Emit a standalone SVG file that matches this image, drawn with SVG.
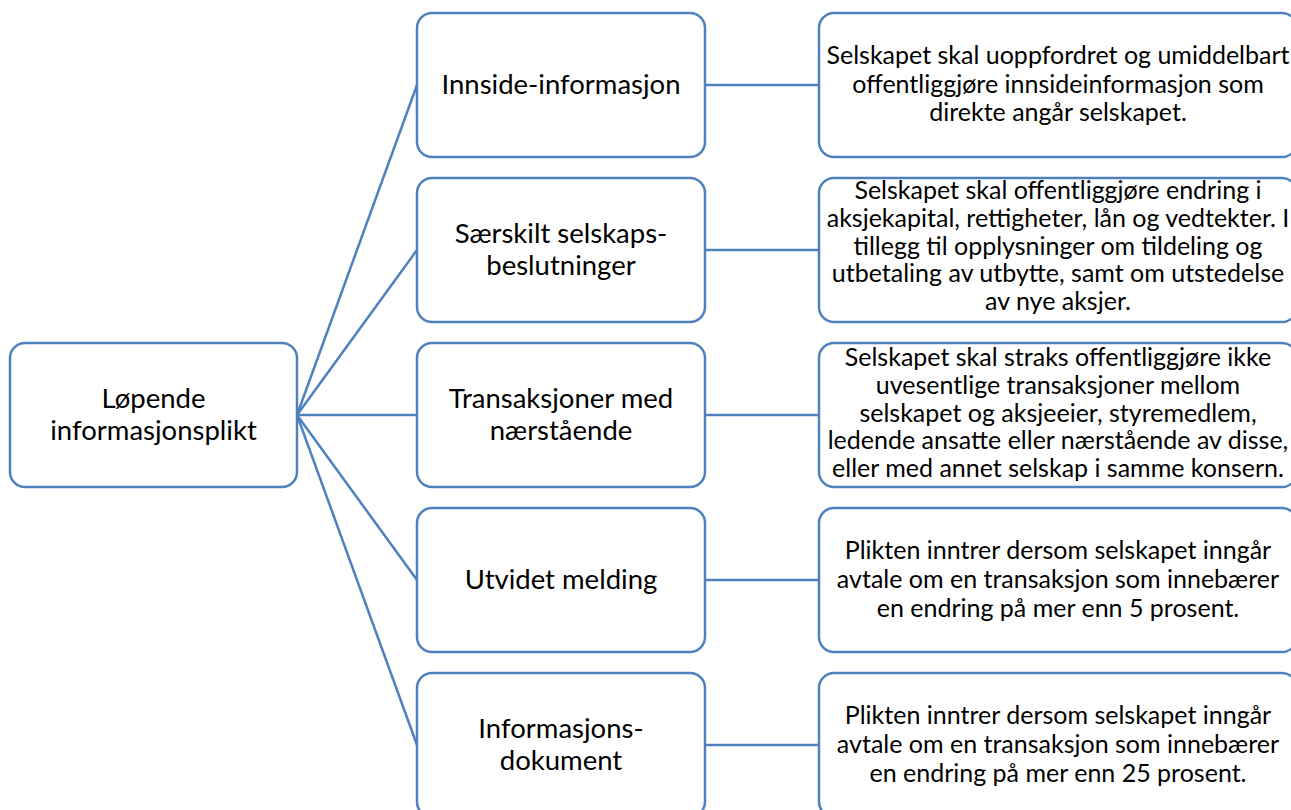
<svg xmlns="http://www.w3.org/2000/svg" width="1291" height="810" viewBox="0 0 1291 810">
<style>
.box{fill:#fff;stroke:#4F81BD;stroke-width:2.5}
.con line{stroke:#4F81BD;stroke-width:2.5}
text{font-family:Lato,"Liberation Sans",sans-serif;fill:#000;text-anchor:middle}
.m{font-size:27.5px}
.r{font-size:25px}
</style>
<rect width="1291" height="810" fill="#fff"/>
<g id="connectors" class="con">
<line x1="297" y1="415" x2="417" y2="85"/>
<line x1="297" y1="415" x2="417" y2="250"/>
<line x1="297" y1="415" x2="417" y2="415"/>
<line x1="297" y1="415" x2="417" y2="580"/>
<line x1="297" y1="415" x2="417" y2="745"/>
<line x1="705" y1="85" x2="819" y2="85"/>
<line x1="705" y1="250" x2="819" y2="250"/>
<line x1="705" y1="415" x2="819" y2="415"/>
<line x1="705" y1="580" x2="819" y2="580"/>
<line x1="705" y1="745" x2="819" y2="745"/>
</g>
<g id="root">
<rect class="box" x="10" y="343" width="287" height="144" rx="15"/>
<text class="m"><tspan x="153.5" y="408">Løpende</tspan><tspan x="153.5" y="440">informasjonsplikt</tspan></text>
</g>
<g id="m1">
<rect class="box" x="417" y="13" width="288" height="144" rx="15"/>
<text class="m" x="561" y="94">Innside-informasjon</text>
</g>
<g id="m2">
<rect class="box" x="417" y="178" width="288" height="144" rx="15"/>
<text class="m"><tspan x="561" y="243">Særskilt selskaps-</tspan><tspan x="561" y="275">beslutninger</tspan></text>
</g>
<g id="m3">
<rect class="box" x="417" y="343" width="288" height="144" rx="15"/>
<text class="m"><tspan x="561" y="408">Transaksjoner med</tspan><tspan x="561" y="440">nærstående</tspan></text>
</g>
<g id="m4">
<rect class="box" x="417" y="508" width="288" height="144" rx="15"/>
<text class="m" x="561" y="589">Utvidet melding</text>
</g>
<g id="m5">
<rect class="box" x="417" y="673" width="288" height="144" rx="15"/>
<text class="m"><tspan x="561" y="738">Informasjons-</tspan><tspan x="561" y="770">dokument</tspan></text>
</g>
<g id="r1">
<rect class="box" x="819" y="13" width="478" height="144" rx="15"/>
<text class="r"><tspan x="1058" y="64">Selskapet skal uoppfordret og umiddelbart</tspan><tspan x="1058" y="93">offentliggjøre innsideinformasjon som</tspan><tspan x="1058" y="121">direkte angår selskapet.</tspan></text>
</g>
<g id="r2">
<rect class="box" x="819" y="178" width="478" height="144" rx="15"/>
<text class="r"><tspan x="1058" y="199">Selskapet skal offentliggjøre endring i</tspan><tspan x="1058" y="226.8">aksjekapital, rettigheter, lån og vedtekter. I</tspan><tspan x="1058" y="254.5">tillegg til opplysninger om tildeling og</tspan><tspan x="1058" y="282.3">utbetaling av utbytte, samt om utstedelse</tspan><tspan x="1058" y="310">av nye aksjer.</tspan></text>
</g>
<g id="r3">
<rect class="box" x="819" y="343" width="478" height="144" rx="15"/>
<text class="r"><tspan x="1058" y="366">Selskapet skal straks offentliggjøre ikke</tspan><tspan x="1058" y="393.8">uvesentlige transaksjoner mellom</tspan><tspan x="1058" y="421.5">selskapet og aksjeeier, styremedlem,</tspan><tspan x="1058" y="449.3">ledende ansatte eller nærstående av disse,</tspan><tspan x="1058" y="477">eller med annet selskap i samme konsern.</tspan></text>
</g>
<g id="r4">
<rect class="box" x="819" y="508" width="478" height="144" rx="15"/>
<text class="r"><tspan x="1058" y="559">Plikten inntrer dersom selskapet inngår</tspan><tspan x="1058" y="588">avtale om en transaksjon som innebærer</tspan><tspan x="1058" y="617">en endring på mer enn 5 prosent.</tspan></text>
</g>
<g id="r5">
<rect class="box" x="819" y="673" width="478" height="144" rx="15"/>
<text class="r"><tspan x="1058" y="724">Plikten inntrer dersom selskapet inngår</tspan><tspan x="1058" y="753">avtale om en transaksjon som innebærer</tspan><tspan x="1058" y="782">en endring på mer enn 25 prosent.</tspan></text>
</g>
</svg>
